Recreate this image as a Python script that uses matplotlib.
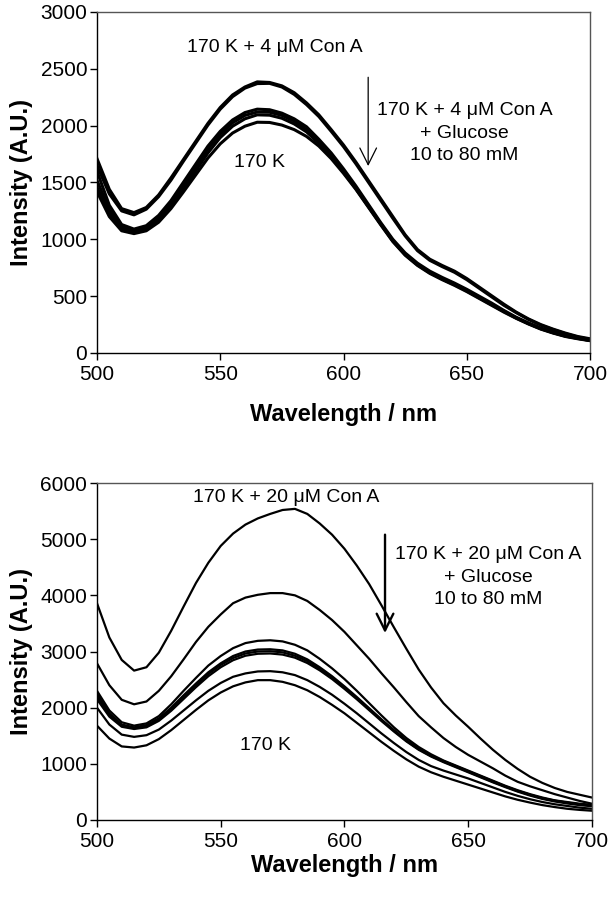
import numpy as np
import matplotlib
matplotlib.use("Agg")
import matplotlib.pyplot as plt

plt.rcParams['font.family'] = ['Liberation Sans', 'DejaVu Sans']

#%% data (5 nm steps)
wl = np.arange(500, 701, 5)

# top panel: 170 K + 4 uM Con A (+ glucose), 170 K
top_cona_1 = [1710, 1440, 1270, 1235, 1280, 1390, 1540, 1700, 1860, 2020, 2160, 2270, 2340, 2385, 2380,
              2350, 2290, 2200, 2095, 1965, 1830, 1680, 1520, 1360, 1200, 1040, 910, 825, 770, 720,
              655, 580, 505, 430, 360, 300, 250, 210, 175, 145, 125]
top_cona_2 = [1650, 1400, 1250, 1215, 1265, 1375, 1520, 1685, 1845, 2005, 2145, 2255, 2330, 2370, 2372,
              2340, 2275, 2185, 2080, 1950, 1815, 1665, 1505, 1345, 1185, 1030, 900, 815, 760, 710,
              645, 570, 495, 420, 355, 295, 245, 205, 170, 140, 120]
top_glc_1 = [1600, 1300, 1130, 1090, 1120, 1210, 1340, 1500, 1660, 1820, 1950, 2050, 2115, 2145, 2140,
             2110, 2060, 1990, 1880, 1760, 1620, 1470, 1310, 1150, 1000, 880, 790, 720, 665, 615,
             560, 500, 440, 375, 315, 265, 220, 185, 155, 135, 115]
top_glc_2 = [1520, 1260, 1110, 1075, 1100, 1185, 1315, 1470, 1635, 1795, 1925, 2025, 2090, 2120, 2118,
             2090, 2040, 1965, 1860, 1740, 1600, 1455, 1295, 1140, 990, 870, 780, 710, 655, 605,
             550, 490, 430, 368, 310, 260, 215, 180, 150, 130, 110]
top_glc_3 = [1460, 1230, 1090, 1060, 1085, 1160, 1285, 1435, 1600, 1760, 1895, 1995, 2060, 2095, 2092,
             2065, 2015, 1945, 1845, 1725, 1590, 1445, 1290, 1135, 985, 865, 775, 705, 650, 600,
             545, 485, 425, 365, 308, 258, 213, 178, 148, 128, 110]
top_170k = [1420, 1200, 1075, 1050, 1075, 1150, 1270, 1415, 1565, 1715, 1840, 1935, 1995, 2030, 2028,
            2005, 1965, 1905, 1820, 1710, 1580, 1440, 1285, 1130, 980, 860, 770, 700, 645, 595,
            540, 480, 420, 360, 305, 255, 210, 175, 145, 125, 108]

# bottom panel: 170 K + 20 uM Con A (+ glucose), 170 K
bot_cona = [3860, 3250, 2850, 2660, 2720, 2980, 3370, 3800, 4220, 4580, 4880, 5100, 5260, 5370, 5450,
            5520, 5540, 5450, 5280, 5080, 4830, 4530, 4200, 3820, 3430, 3050, 2680, 2360, 2080, 1860,
            1660, 1450, 1250, 1070, 910, 770, 660, 570, 500, 450, 400]
bot_glc_1 = [2790, 2400, 2140, 2060, 2110, 2300, 2560, 2860, 3170, 3440, 3660, 3860, 3960, 4010, 4040,
             4040, 4000, 3900, 3740, 3560, 3350, 3110, 2870, 2610, 2360, 2100, 1850, 1650, 1460, 1300,
             1160, 1040, 920, 790, 680, 600, 530, 460, 400, 340, 290]
bot_glc_2 = [2300, 1950, 1740, 1680, 1720, 1850, 2060, 2300, 2530, 2750, 2920, 3060, 3150, 3190, 3200,
             3180, 3120, 3020, 2870, 2700, 2510, 2300, 2080, 1860, 1650, 1460, 1300, 1170, 1060, 970,
             880, 790, 700, 610, 530, 460, 400, 350, 320, 290, 270]
bot_glc_3 = [2250, 1900, 1700, 1650, 1690, 1810, 2000, 2220, 2430, 2630, 2790, 2920, 3000, 3035, 3040,
             3020, 2960, 2860, 2720, 2560, 2380, 2190, 1990, 1790, 1600, 1420, 1270, 1150, 1050, 960,
             870, 780, 690, 600, 520, 450, 390, 345, 310, 280, 260]
bot_glc_4 = [2200, 1870, 1680, 1635, 1670, 1790, 1975, 2190, 2400, 2600, 2760, 2885, 2965, 3000, 3005,
             2985, 2925, 2830, 2695, 2540, 2360, 2170, 1975, 1780, 1590, 1410, 1260, 1140, 1040, 950,
             860, 770, 680, 595, 515, 445, 385, 340, 305, 275, 255]
bot_glc_5 = [2150, 1840, 1660, 1620, 1650, 1765, 1945, 2155, 2365, 2560, 2720, 2845, 2925, 2960, 2965,
             2945, 2890, 2795, 2665, 2510, 2335, 2150, 1955, 1760, 1575, 1400, 1250, 1130, 1030, 940,
             850, 760, 670, 585, 505, 435, 375, 330, 295, 265, 245]
bot_glc_6 = [2000, 1700, 1520, 1480, 1510, 1610, 1770, 1950, 2130, 2300, 2440, 2550, 2610, 2645, 2650,
             2630, 2580, 2490, 2370, 2230, 2070, 1900, 1720, 1540, 1370, 1210, 1070, 960, 880, 810,
             740, 660, 580, 500, 430, 370, 320, 280, 250, 220, 200]
bot_170k = [1680, 1450, 1310, 1290, 1330, 1440, 1600, 1780, 1960, 2130, 2270, 2380, 2450, 2490, 2490,
            2460, 2400, 2310, 2190, 2050, 1900, 1730, 1560, 1390, 1230, 1080, 950, 850, 770, 700,
            630, 560, 490, 420, 360, 310, 265, 230, 200, 180, 165]

top_curves = [top_cona_1, top_cona_2, top_glc_1, top_glc_2, top_glc_3, top_170k]
bot_curves = [bot_cona, bot_glc_1, bot_glc_2, bot_glc_3, bot_glc_4, bot_glc_5, bot_glc_6, bot_170k]

#%% plot
fig = plt.figure(figsize=(6.08, 9.0), dpi=100)
ax1 = fig.add_axes([0.1595, 0.6078, 0.811, 0.3789])
ax2 = fig.add_axes([0.1595, 0.0889, 0.814, 0.3744])

for c in top_curves:
    ax1.plot(wl, c, color='black', lw=2.2)
for c in bot_curves:
    ax2.plot(wl, c, color='black', lw=1.6)

for ax, ymax, lpad in [(ax1, 3000, 13), (ax2, 6000, 2)]:
    ax.set_xlim(500, 700)
    ax.set_ylim(0, ymax)
    ax.set_xticks([500, 550, 600, 650, 700])
    ax.set_xlabel('Wavelength / nm', fontsize=17, fontweight='bold', labelpad=lpad)
    ax.set_ylabel('Intensity (A.U.)', fontsize=17, fontweight='bold', labelpad=5)
    ax.tick_params(direction='out', length=5, width=1, labelsize=15)
    ax.tick_params(axis='x', pad=4)
    ax.tick_params(axis='y', pad=2)
    for s in ax.spines.values():
        s.set_linewidth(1.0)
    ax.spines['top'].set_color('#555555')
    ax.spines['right'].set_color('#555555')

ax1.set_yticks(range(0, 3001, 500))
ax2.set_yticks(range(0, 6001, 1000))

# top panel annotations
ax1.text(572, 2690, '170 K + 4 \u03bcM Con A', ha='center', va='center', fontsize=14)
ax1.annotate('', xy=(610, 1620), xytext=(610, 2450),
             arrowprops=dict(arrowstyle='->', color='black', lw=0.9, mutation_scale=30))
ax1.text(649, 1935, '170 K + 4 \u03bcM Con A\n+ Glucose\n10 to 80 mM',
         ha='center', va='center', fontsize=14, linespacing=1.45)
ax1.text(566, 1680, '170 K', ha='center', va='center', fontsize=14)

# bottom panel annotations
ax2.text(576.5, 5750, '170 K + 20 \u03bcM Con A', ha='center', va='center', fontsize=14)
ax2.annotate('', xy=(616.4, 3280), xytext=(616.4, 5130),
             arrowprops=dict(arrowstyle='->', color='black', lw=1.7, mutation_scale=30))
ax2.text(658, 4326, '170 K + 20 \u03bcM Con A\n+ Glucose\n10 to 80 mM',
         ha='center', va='center', fontsize=14, linespacing=1.45)
ax2.text(568, 1335, '170 K', ha='center', va='center', fontsize=14)

plt.savefig('out.png', dpi=100)
